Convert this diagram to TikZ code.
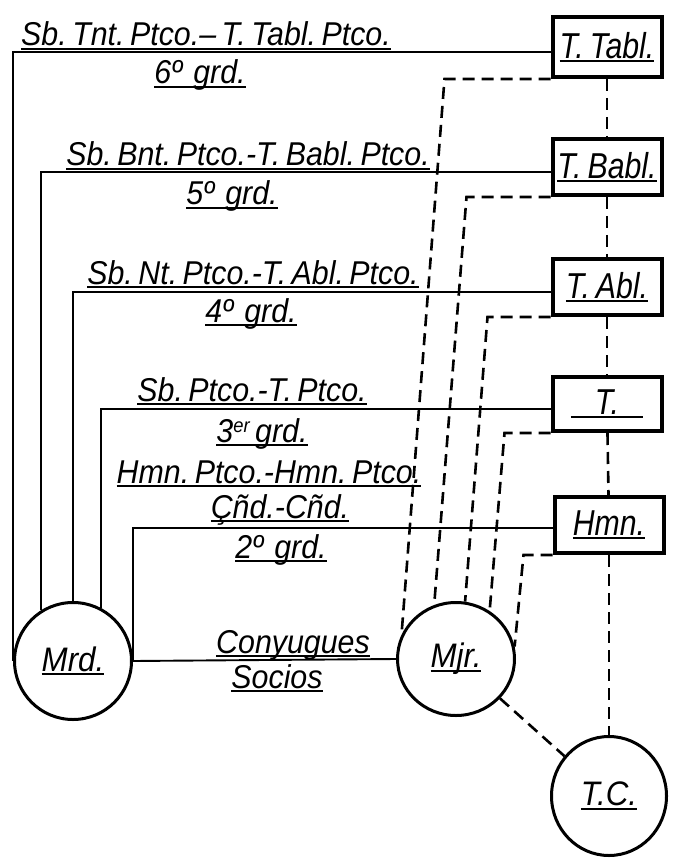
\documentclass[tikz,border=0pt]{standalone}
\usepackage{fontspec}
\setmainfont{Liberation Sans}
\newfontfamily\hand[FakeStretch=0.92]{Liberation Sans}
\newfontfamily\handb[FakeStretch=0.84]{Liberation Sans}
\usetikzlibrary{shapes.geometric}
\newsavebox\ulbox
\newcommand\myul[1]{\sbox\ulbox{#1}\rlap{\rule[-4pt]{\wd\ulbox}{1.9pt}}\usebox\ulbox}
\newcommand\myraise[1]{\raisebox{0.3em}{\fontsize{20}{21}\selectfont #1}}
\begin{document}
\begin{tikzpicture}[x=1pt,y=-1pt,
  lbl/.style={anchor=base,inner sep=0pt,font=\hand\fontsize{33}{35}\selectfont\itshape},
  kbox/.style={draw,line width=4pt,minimum width=109pt,minimum height=56pt,inner sep=0pt,
     text depth=4pt,font=\handb\fontsize{36}{38}\selectfont\itshape},
  person/.style={draw,ellipse,line width=3pt,inner sep=0pt,
     font=\hand\fontsize{34}{36}\selectfont\itshape},
  solid line/.style={line width=1.9pt},
  dashline/.style={line width=2.6pt,dash pattern=on 12pt off 7pt}]
\useasboundingbox (0,0) rectangle (675,858);
% kin boxes
\node[kbox,minimum height=60pt] (ttabl) at (607,47) {\myul{T.\,Tabl.}};
\node[kbox] (tbabl) at (607,167) {\myul{T.\,Babl.}};
\node[kbox] (tabl) at (607,287) {\myul{T.\,Abl.}};
\node[kbox,minimum height=54pt] (t) at (607,404) {\myul{\,\,\,\,T.\,\,\,\,}};
\node[kbox] (hmn) at (609,525) {\myul{Hmn.}};
% persons
\node[person,minimum width=117pt,minimum height=117pt] (mrd) at (73,661) {\myul{Mrd.}};
\node[person,minimum width=117pt,minimum height=113pt] (mjr) at (456,659) {\myul{Mjr.}};
\node[person,minimum width=115pt,minimum height=119pt] (tc) at (609,796) {\myul{T.C.}};
% solid connectors
\draw[solid line] ([yshift=-5pt]ttabl.west) -| (mrd.west);
\draw[solid line] ([yshift=-5pt]tbabl.west) -| (mrd.122);
\draw[solid line] ([yshift=-5pt]tabl.west) -| (mrd.north);
\draw[solid line] ([yshift=-5pt]t.west) -| (mrd.62);
\draw[solid line] ([yshift=-3pt]hmn.west) -| (mrd.east);
\draw[solid line] (mrd.east) -- (mjr.west);
% dashed connectors
\draw[dashline] (ttabl) -- (tbabl);
\draw[dashline] (tbabl) -- (tabl);
\draw[dashline] (tabl) -- (t);
\draw[dashline] (t) -- (hmn);
\draw[dashline] (hmn) -- (tc);
\draw[dashline] (mjr) -- (tc);
\draw[dashline] (ttabl.south west) -- ++(-106,0) -- (mjr.156);
\draw[dashline] (tbabl.south west) -- ++(-84,0) -- (mjr.112);
\draw[dashline] (tabl.south west) -- ++(-63,0) -- (mjr.81);
\draw[dashline] (t.south west) -- ++(-46,0) -- (mjr.55);
\draw[dashline] (hmn.south west) -- ++(-29,0) -- (mjr.12);
% labels
\node[lbl] (l6a) at (206,46) {\myul{Sb.\,Tnt.\,Ptco.–\,T.\,Tabl.\,Ptco.}};
\node[lbl] (l6b) at (200,84) {\myul{6º\,\,grd.}};
\node[lbl] (l5a) at (248,166) {\myul{Sb.\,Bnt.\,Ptco.-T.\,Babl.\,Ptco.}};
\node[lbl] (l5b) at (232,205) {\myul{5º\,\,grd.}};
\node[lbl] (l4a) at (253,284) {\myul{Sb.\,Nt.\,Ptco.-T.\,Abl.\,Ptco.}};
\node[lbl] (l4b) at (251,322) {\myul{4º\,\,grd.}};
\node[lbl] (l3a) at (252,401) {\myul{Sb.\,Ptco.-T.\,Ptco.}};
\node[lbl] (l3b) at (262,442) {\myul{3\myraise{er}\,grd.}};
\node[lbl] (l2a) at (269,483) {\myul{Hmn.\,Ptco.-Hmn.\,Ptco.}};
\node[lbl] (l2b) at (280,518) {\myul{Çñd.-Cñd.}};
\node[lbl] (l2c) at (281,558) {\myul{2º\,\,grd.}};
\node[lbl] (conj) at (293,653) {\myul{Conyugues}};
\node[lbl] (soc) at (277,688) {\myul{Socios}};
\end{tikzpicture}
\end{document}
